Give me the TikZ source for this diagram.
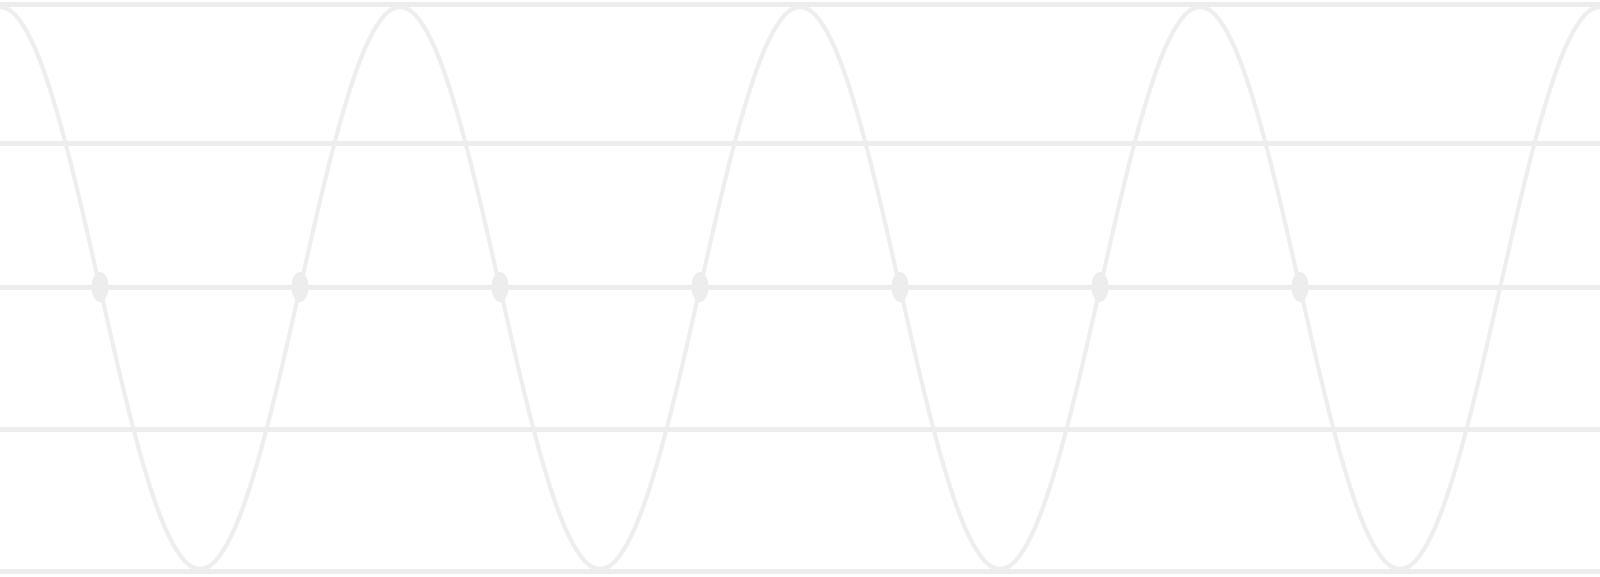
\documentclass[tikz,border=0pt]{standalone}
\definecolor{lightline}{HTML}{EDEDED}
\definecolor{wavecol}{HTML}{EEEEEE}
\tikzset{
  gridline/.style={draw=lightline, line width=5pt},
  waveline/.style={draw=wavecol, line width=4pt},
  crossmark/.style={fill=lightline, draw=none}
}
\begin{document}
\begin{tikzpicture}[x=1pt,y=-1pt]
\useasboundingbox (0,0) rectangle (1600,576);
\fill[white] (0,0) rectangle (1600,576);
\foreach \yy in {4,143,287,429,571}{
  \draw[gridline] (0,\yy) -- (1600,\yy);
}
\draw[waveline] plot[domain=0:1600, samples=321, smooth] (\x, {288-281*cos(0.9*\x)});
\foreach \xx in {100,300,500,700,900,1100,1300}{
  \fill[crossmark] (\xx,287) ellipse [x radius=8.5, y radius=15];
}
\end{tikzpicture}
\end{document}
